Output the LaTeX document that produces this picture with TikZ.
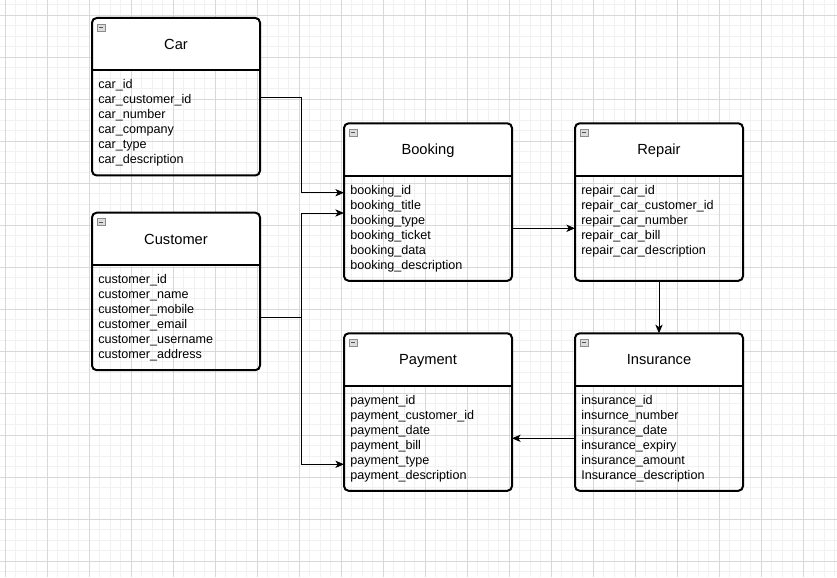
\documentclass[tikz,border=0pt]{standalone}
\usepackage{fontspec}
\setmainfont{Liberation Sans}
\usetikzlibrary{arrows.meta,calc}
\definecolor{gridminor}{HTML}{F1F1F1}
\definecolor{gridmajor}{HTML}{D8D8D8}
\definecolor{iconfill}{HTML}{DCDCDC}
\definecolor{iconline}{HTML}{8C8C8C}
\definecolor{icondash}{HTML}{555555}
\tikzset{
  entity/.style={rectangle, minimum width=126pt, minimum height=118.125pt, inner sep=0pt, outer sep=0pt},
  border/.style={line width=1.5pt, rounded corners=3.5pt},
  etitle/.style={font=\fontsize{11pt}{13pt}\selectfont, anchor=base, inner sep=0pt},
  field/.style={font=\fontsize{9.45pt}{11.25pt}\selectfont, anchor=base west, inner sep=0pt},
  conn/.style={line width=0.75pt, -{Stealth[length=6.5pt,width=5.5pt,inset=1.8pt]}},
}
\newcommand{\myentity}[5]{%
  \node[entity] (#1) at (#2,#3) {};
  \fill[white, rounded corners=3.5pt] (#1.north west) rectangle ($(#1.north east)+(0,52.5)$);
  \fill[white] ($(#1.north west)+(0,30)$) rectangle ($(#1.north east)+(0,52.5)$);
  \draw[line width=1.5pt] ($(#1.north west)+(0,52.5)$) -- ($(#1.north east)+(0,52.5)$);
  \draw[border] (#1.north west) rectangle (#1.south east);
  \draw[iconline, fill=iconfill, line width=0.5pt] ($(#1.north west)+(5.5,6)$) rectangle ($(#1.north west)+(13,13)$);
  \draw[icondash, line width=0.75pt] ($(#1.north west)+(7.2,9.5)$) -- ($(#1.north west)+(11.3,9.5)$);
  \node[etitle] (#1-title) at ($(#1.north)+(0,31.3)$) {#4};
  \foreach \t [count=\i] in {#5} {
    \node[field] (#1-f\i) at ($(#1.north west)+(6,52.5+18.5+15*\i-15)$) {\t};
  }
}
\begin{document}
\begin{tikzpicture}[x=0.75pt,y=-0.75pt]
\useasboundingbox (0,0) rectangle (837,577);
\fill[white] (0,0) rectangle (837,577);
\begin{scope}
  \clip (0,0) rectangle (837,577);
  \foreach \i in {-1,...,80} {
    \pgfmathsetmacro\xx{5.3+10.5*\i}
    \draw[gridminor, line width=0.75pt] (\xx,0) -- (\xx,577);
  }
  \foreach \i in {-2,...,55} {
    \pgfmathsetmacro\yy{15.3+10.5*\i}
    \draw[gridminor, line width=0.75pt] (0,\yy) -- (837,\yy);
  }
  \foreach \i in {0,...,20} {
    \pgfmathsetmacro\xx{5.3+42*\i}
    \draw[gridmajor, line width=0.75pt] (\xx,0) -- (\xx,577);
  }
  \foreach \i in {-1,...,14} {
    \pgfmathsetmacro\yy{15.3+42*\i}
    \draw[gridmajor, line width=0.75pt] (0,\yy) -- (837,\yy);
  }
\end{scope}

\myentity{car}{176}{96.75}{Car}{car\_id,car\_customer\_id,car\_number,car\_company,car\_type,car\_description}
\myentity{customer}{176}{291.45}{Customer}{customer\_id,customer\_name,customer\_mobile,customer\_email,customer\_username,customer\_address}
\myentity{booking}{428}{202.05}{Booking}{booking\_id,booking\_title,booking\_type,booking\_ticket,booking\_data,booking\_description}
\myentity{repair}{659}{202.05}{Repair}{repair\_car\_id,repair\_car\_customer\_id,repair\_car\_number,repair\_car\_bill,repair\_car\_description}
\myentity{payment}{428}{412.05}{Payment}{payment\_id,payment\_customer\_id,payment\_date,payment\_bill,payment\_type,payment\_description}
\myentity{insurance}{659}{412.05}{Insurance}{insurance\_id,insurnce\_number,insurance\_date,insurance\_expiry,insurance\_amount,Insurance\_description}

\draw[conn] ($(car.north east)+(0,79.3)$) -| ($(booking.north west)+(-42.3,69.4)$) -- ($(booking.north west)+(0,69.4)$);
\draw[conn] ($(customer.north east)+(0,104.3)$) -| ($(booking.north west)+(-42.3,89.7)$) -- ($(booking.north west)+(0,89.7)$);
\draw[conn] ($(customer.north east)+(0,104.3)$) -| ($(payment.north west)+(-42.3,131)$) -- ($(payment.north west)+(0,131)$);
\draw[conn] ($(booking.north east)+(0,105)$) -- ($(repair.north west)+(0,105)$);
\draw[conn] (repair.south) -- (insurance.north);
\draw[conn] ($(insurance.north west)+(0,105)$) -- ($(payment.north east)+(0,105)$);
\end{tikzpicture}
\end{document}
